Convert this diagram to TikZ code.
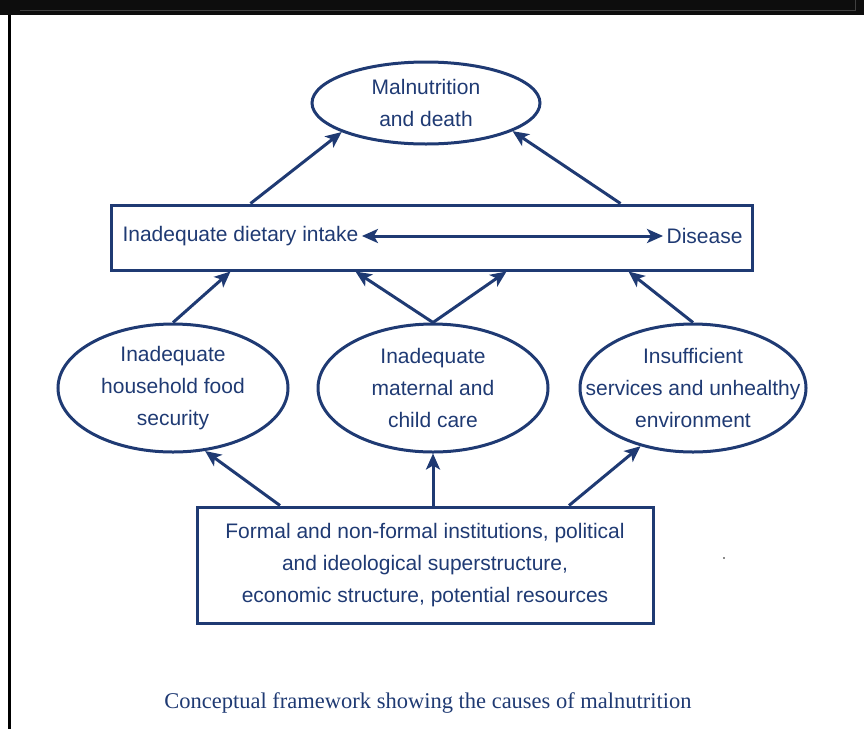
\documentclass[tikz,border=0pt]{standalone}
\usepackage{fontspec}
\setmainfont{Liberation Sans}
\newfontfamily\capfont{Liberation Serif}
\usetikzlibrary{shapes.geometric, arrows.meta, positioning, calc}
\definecolor{navy}{RGB}{31,58,115}

\begin{document}
\begin{tikzpicture}[
    x=1pt, y=-1pt,
    oval/.style={draw=navy, ellipse, line width=3pt, minimum width=230pt, minimum height=128pt, inner sep=0pt},
    box/.style={draw=navy, rectangle, line width=3pt, inner sep=0pt},
    oval text/.style={align=center, text=navy, font=\fontsize{21}{32}\selectfont},
    arr/.style={-{Stealth[length=16pt, width=14pt, inset=4pt]}, draw=navy, line width=3pt}
]
\useasboundingbox (0,0) rectangle (864,729);

% Rahmen
\fill[black!95] (0,0) rectangle (864,15);
\draw[black!75, line width=0.8pt] (20,10) -- (855,10) -- (855,0);
\fill[black] (8,15) rectangle (11,729);
\fill[black!45] (723,557) rectangle (725,559);

% Nodes
\node[oval, minimum width=228pt, minimum height=82pt, label={[oval text]center:{Malnutrition\\and death}}] (death) at (426,103) {};

\node[box, minimum width=641pt, minimum height=65pt] (intake) at (431.5,237.5) {};
\node[oval text, anchor=west] (diet) at (119,236) {Inadequate dietary intake};
\node[oval text, anchor=east] (disease) at (746,236) {Disease};

\node[oval, label={[oval text]center:{Inadequate\\household food\\security}}] (food) at (173,388) {};
\node[oval, label={[oval text]center:{Inadequate\\maternal and\\child care}}] (care) at (433,388) {};
\node[oval, minimum width=226pt, label={[oval text]center:{Insufficient\\services and unhealthy\\environment}}] (env) at (693,388) {};

\node[box, minimum width=456pt, minimum height=116pt, label={[oval text]center:{Formal and non-formal institutions, political\\and ideological superstructure,\\economic structure, potential resources}}] (basic) at (425,565) {};

\node[text=navy, font=\capfont\fontsize{22.5}{26}\selectfont] (caption) at (428,703) {Conceptual framework showing the causes of malnutrition};

% Pfeile
\draw[arr] ([xshift=-181pt]intake.north) -- (death.199);
\draw[arr] ([xshift=189pt]intake.north) -- (death.342);
\draw[arr, {Stealth[length=16pt, width=14pt, inset=4pt]}-{Stealth[length=16pt, width=14pt, inset=4pt]}] (diet) -- (disease);

\draw[arr] (food.north) -- ([xshift=-201pt]intake.south);
\draw[arr] (care.north) -- ([xshift=-76pt]intake.south);
\draw[arr] (care.north) -- ([xshift=75pt]intake.south);
\draw[arr] (env.north) -- ([xshift=197pt]intake.south);

\draw[arr] ([xshift=-145pt]basic.north) -- (food.297);
\draw[arr] (basic.north -| care) -- (care.south);
\draw[arr] ([xshift=144pt]basic.north) -- (env.228);

\end{tikzpicture}
\end{document}
